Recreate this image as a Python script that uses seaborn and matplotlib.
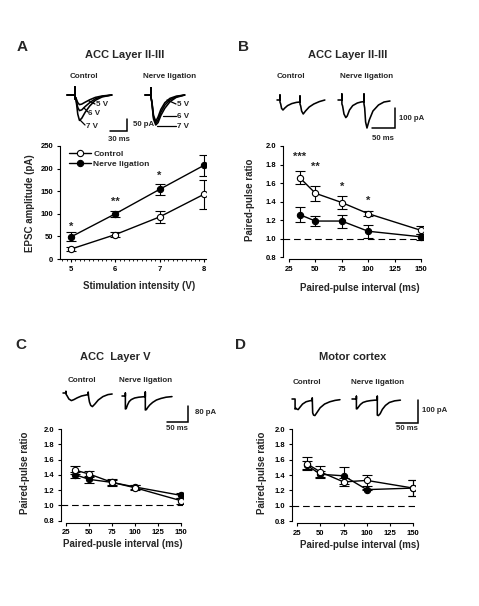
import matplotlib
matplotlib.use("Agg")
import matplotlib.pyplot as plt
import seaborn as sns
from matplotlib.ticker import FixedLocator, FormatStrFormatter, MultipleLocator

# ---------------- data ----------------
stim_v = [5, 6, 7, 8]
a_ctrl = [22, 54, 93, 143]
a_ctrl_err = [4, 6, 14, 32]
a_nl = [49, 100, 154, 207]
a_nl_err = [10, 7, 13, 24]
a_star_x = [5, 6, 7]
a_stars = ["*", "**", "*"]
a_star_y = [71, 127, 184]

ppi = [35, 50, 75, 100, 150]
b_ctrl = [1.66, 1.49, 1.39, 1.27, 1.09]
b_ctrl_err = [0.07, 0.08, 0.07, 0.03, 0.045]
b_nl = [1.26, 1.19, 1.19, 1.08, 1.02]
b_nl_err = [0.08, 0.05, 0.07, 0.07, 0.03]
b_star_x = [35, 50, 75, 100]
b_stars = ["***", "**", "*", "*"]
b_star_y = [1.88, 1.77, 1.56, 1.41]

c_ctrl = [1.46, 1.41, 1.30, 1.23, 1.06]
c_ctrl_err = [0.05, 0.045, 0.045, 0.03, 0.04]
c_nl = [1.40, 1.34, 1.30, 1.24, 1.13]
c_nl_err = [0.04, 0.05, 0.03, 0.03, 0.03]

d_ctrl = [1.55, 1.44, 1.31, 1.33, 1.23]
d_ctrl_err = [0.08, 0.08, 0.05, 0.07, 0.10]
d_nl = [1.53, 1.41, 1.39, 1.21, 1.23]
d_nl_err = [0.05, 0.04, 0.11, 0.01, 0.10]

pp_ticks = [25, 50, 75, 100, 125, 150]
ratio_ticks = [0.8, 1.0, 1.2, 1.4, 1.6, 1.8, 2.0]
amp_ticks = [0, 50, 100, 150, 200, 250]

# example traces (time ms, current pA)
a_ctrl_t = [0, 14, 14, 14, 15, 17, 19, 22, 26, 32, 40, 50, 62, 79]
a_ctrl_5v = [0, 0, 33, -17, -10, -20, -32, -40, -38, -30, -20, -10, -4, 0]
a_ctrl_6v = [0, 0, 33, -17, -10, -30, -52, -65, -62, -48, -32, -16, -6, 0]
a_ctrl_7v = [0, 0, 33, -17, -10, -40, -80, -106, -97, -72, -46, -22, -8, 0]
a_nl_t = [0, 10.5, 10.5, 10.5, 12, 15, 19, 23, 28, 35, 44, 55, 70]
a_nl_5v = [0, 0, 30, -10, -25, -85, -110, -92, -60, -32, -14, -5, 0]
a_nl_6v = [0, 0, 30, -10, -28, -92, -118, -105, -72, -42, -20, -7, 0]
a_nl_7v = [0, 0, 30, -10, -30, -100, -125, -115, -85, -55, -28, -10, 0]

b_ctrl_t = [0, 6.5, 6.5, 6.5, 8, 10, 13, 17, 23, 32, 42, 50, 50, 50, 51.5, 53.5, 57, 62, 70, 80, 92, 104]
b_ctrl_i = [0, 0, 25, -10, -20, -42, -50, -40, -28, -18, -12, -10, 20, -20, -30, -55, -70, -55, -35, -20, -8, 0]
b_nl_t = [0, 8.5, 8.5, 8.5, 10, 13, 17, 20, 25, 32, 42, 50, 56.5, 56.5, 56.5, 58, 60, 63, 68, 76, 88, 100, 113]
b_nl_i = [0, 0, 30, -20, -30, -70, -88, -80, -50, -28, -15, -10, -8, 30, -20, -40, -110, -140, -100, -55, -25, -10, -5]

c_ctrl_t = [0, 7, 7, 7, 10, 14, 20, 26, 34, 44, 55, 60, 60, 61, 63, 66, 70, 76, 84, 95, 107, 117]
c_ctrl_i = [0, 0, 8, -5, -15, -30, -38, -33, -24, -15, -10, -8, 5, -20, -45, -62, -68, -55, -35, -18, -8, -5]
c_nl_t = [0, 8, 8, 8, 10, 13, 17, 22, 30, 40, 50, 55.5, 55.5, 55.5, 58, 61, 66, 73, 82, 93, 105, 119]
c_nl_i = [0, 0, 15, -65, -63, -45, -28, -18, -10, -6, -4, -3, 20, -70, -68, -58, -45, -32, -20, -12, -6, -3]

d_ctrl_t = [0, 7, 7, 9, 11, 14, 18, 24, 32, 40, 46, 46, 47, 49, 52, 57, 64, 74, 86, 98, 109]
d_ctrl_i = [0, 0, -44, -40, -44, -46, -36, -22, -12, -8, -6, 5, -60, -70, -72, -58, -38, -22, -12, -6, -3]
d_nl_t = [0, 10, 10, 10, 12, 15, 19, 25, 33, 42, 52, 57.5, 57.5, 57.5, 60, 64, 69, 76, 85, 97, 110]
d_nl_i = [0, 0, 12, -43, -42, -34, -24, -15, -10, -7, -5, -5, 12, -70, -72, -64, -45, -28, -15, -8, -5]

# ---------------- style ----------------
sns.set_theme(style="ticks")
plt.rcParams["font.family"] = ["Liberation Sans", "DejaVu Sans"]
plt.rcParams["font.weight"] = "bold"
plt.rcParams["axes.labelweight"] = "bold"
plt.rcParams["axes.linewidth"] = 0.8

W, H = 479, 606
fig = plt.figure(figsize=(W / 100, H / 100), dpi=100)
fig.patch.set_facecolor("white")

LW = 1.0
TLW = 1.15
TICK_FS = 5.5
LAB_FS = 7


def ftext(x, y, s, **kw):
    kw.setdefault("ha", "center")
    kw.setdefault("va", "center")
    kw.setdefault("fontweight", "bold")
    fig.text(x / W, 1 - y / H, s, **kw)


def add_ax(left, top, right, bottom):
    return fig.add_axes([left / W, 1 - bottom / H, (right - left) / W, (bottom - top) / H])


def style_ticks(ax):
    ax.tick_params(axis="both", labelsize=TICK_FS, length=2.5, width=0.8, pad=2.5,
                   colors="black", direction="out")
    for lab in ax.get_xticklabels() + ax.get_yticklabels():
        lab.set_fontweight("bold")
    for s in ["top", "right"]:
        ax.spines[s].set_visible(False)
    for s in ["left", "bottom"]:
        ax.spines[s].set_color("black")
        ax.spines[s].set_linewidth(0.8)


def draw_series(ax, x, ctrl, ctrl_err, nl, nl_err, labels=True):
    ax.errorbar(x, ctrl, yerr=ctrl_err, fmt="none", ecolor="black", elinewidth=0.8,
                capsize=3.3, capthick=0.8, zorder=2)
    ax.errorbar(x, nl, yerr=nl_err, fmt="none", ecolor="black", elinewidth=0.8,
                capsize=3.3, capthick=0.8, zorder=2)
    sns.lineplot(x=x, y=nl, ax=ax, color="black", lw=LW, marker="o", markersize=4.5,
                 markerfacecolor="black", markeredgecolor="black", markeredgewidth=0.8,
                 label="Nerve ligation" if labels else None, zorder=3, errorbar=None)
    sns.lineplot(x=x, y=ctrl, ax=ax, color="black", lw=LW, marker="o", markersize=4.5,
                 markerfacecolor="white", markeredgecolor="black", markeredgewidth=0.8,
                 label="Control" if labels else None, zorder=4, errorbar=None)


def pp_axes(ax, xlabel, xlab_xy, ylab_xy):
    ax.axhline(1.0, color="black", lw=0.8, ls=(0, (6, 3.5)), zorder=1)
    ax.set_xlim(19.3, 152)
    ax.set_ylim(0.775, 2.0)
    ax.xaxis.set_major_locator(FixedLocator(pp_ticks))
    ax.yaxis.set_major_locator(FixedLocator(ratio_ticks))
    ax.yaxis.set_major_formatter(FormatStrFormatter("%.1f"))
    style_ticks(ax)
    ax.spines["left"].set_bounds(0.8, 2.0)
    ax.spines["bottom"].set_bounds(25, 150)
    ax.set_xlabel(xlabel, fontsize=LAB_FS, fontweight="bold", va="center")
    ax.set_ylabel("Paired-pulse ratio", fontsize=LAB_FS, fontweight="bold", va="center")
    ax.xaxis.set_label_coords(*xlab_xy)
    ax.yaxis.set_label_coords(*ylab_xy)
    leg = ax.get_legend()
    if leg is not None:
        leg.remove()


def trace_ax(box, x0, y0, ppms, pppa):
    left, top, right, bottom = box
    ax = add_ax(left, top, right, bottom)
    ax.set_xlim((left - x0) / ppms, (right - x0) / ppms)
    ax.set_ylim((y0 - bottom) / pppa, (y0 - top) / pppa)
    ax.axis("off")
    return ax


def trace(ax, t, i, t_off=0.0, i_off=0.0):
    sns.lineplot(x=[v + t_off for v in t], y=[v + i_off for v in i], ax=ax, color="black",
                 lw=TLW, sort=False, estimator=None, errorbar=None)


def scale_bar(ax, x0, y0, ppms, pppa, xbar, ybar, ms, pa):
    tb = (xbar - x0) / ppms
    ib = (y0 - ybar) / pppa
    ax.plot([tb - ms, tb, tb], [ib, ib, ib + pa], color="black", lw=1.1,
            solid_joinstyle="miter", clip_on=False)


def connector(ax, x0, y0, ppms, pppa, p1, p2):
    ax.plot([(p1[0] - x0) / ppms, (p2[0] - x0) / ppms],
            [(y0 - p1[1]) / pppa, (y0 - p2[1]) / pppa], color="black", lw=0.9, clip_on=False)


# ---------------- Panel A ----------------
axA = add_ax(60, 146, 206, 259)
draw_series(axA, stim_v, a_ctrl, a_ctrl_err, a_nl, a_nl_err)
axA.set_xlim(4.75, 8.05)
axA.set_ylim(0, 250)
axA.xaxis.set_major_locator(FixedLocator(stim_v))
axA.yaxis.set_major_locator(FixedLocator(amp_ticks))
axA.xaxis.set_minor_locator(MultipleLocator(0.1))
style_ticks(axA)
axA.tick_params(axis="x", which="minor", length=1.3, width=0.6, colors="black")
axA.set_xlabel("Stimulation intensity (V)", fontsize=LAB_FS, fontweight="bold", va="center")
axA.set_ylabel("EPSC amplitude (pA)", fontsize=LAB_FS, fontweight="bold", va="center")
axA.xaxis.set_label_coords(0.541, -0.239)
axA.yaxis.set_label_coords(-0.205, 0.496)
h, l = axA.get_legend_handles_labels()
order = [l.index("Control"), l.index("Nerve ligation")]
axA.legend([h[k] for k in order], [l[k] for k in order], loc="upper left",
           bbox_to_anchor=(0.05, 0.98), frameon=False, handlelength=2.6,
           handletextpad=0.3, labelspacing=0.25, borderaxespad=0, borderpad=0.2,
           prop={"weight": "bold", "size": 6})
for sx, sy, s in zip(a_star_x, a_star_y, a_stars):
    axA.text(sx, sy, s, ha="center", va="center", fontsize=8, fontweight="bold")

# ---------------- Panel B ----------------
axB = add_ax(283, 146, 423, 259.5)
draw_series(axB, ppi, b_ctrl, b_ctrl_err, b_nl, b_nl_err, labels=False)
pp_axes(axB, "Paired-pulse interval (ms)", (0.55, -0.251), (-0.236, 0.524))
for sx, sy, s in zip(b_star_x, b_star_y, b_stars):
    axB.text(sx, sy, s, ha="center", va="center", fontsize=8, fontweight="bold")

# ---------------- Panel C ----------------
axC = add_ax(61, 429, 183, 522.5)
draw_series(axC, ppi, c_ctrl, c_ctrl_err, c_nl, c_nl_err, labels=False)
pp_axes(axC, "Paired-pusle interval (ms)", (0.508, -0.23), (-0.295, 0.529))

# ---------------- Panel D ----------------
axD = add_ax(292, 429, 415, 523)
draw_series(axD, ppi, d_ctrl, d_ctrl_err, d_nl, d_nl_err, labels=False)
pp_axes(axD, "Paired-pulse interval (ms)", (0.553, -0.235), (-0.244, 0.535))

# ---------------- traces ----------------
# A
pa = (67, 95, 0.567, 0.24)
tA = trace_ax((60, 80, 200, 142), *pa)
for tr in (a_ctrl_5v, a_ctrl_6v, a_ctrl_7v):
    trace(tA, a_ctrl_t, tr)
for tr in (a_nl_5v, a_nl_6v, a_nl_7v):
    trace(tA, a_nl_t, tr, t_off=(145 - 67) / 0.567)
scale_bar(tA, *pa, 127, 131, 30, 50)
for p1, p2 in [((89, 101), (95, 104)), ((84, 108), (88, 112)), ((80, 120), (85, 125)),
               ((167, 100), (176, 104)), ((163, 116), (176, 116)), ((157, 126), (176, 126))]:
    connector(tA, *pa, p1, p2)
for x, y, s in [(96, 105, "5 V"), (88, 114, "6 V"), (86, 127, "7 V"),
                (177, 105, "5 V"), (177, 116, "6 V"), (177, 127, "7 V")]:
    ftext(x, y, s, ha="left", fontsize=5.8)
ftext(133, 124, "50 pA", ha="left", fontsize=5.6)
ftext(119, 139, "30 ms", fontsize=5.6)

# B
pb = (277, 100, 0.46, 0.2)
tB = trace_ax((270, 85, 440, 142), *pb)
trace(tB, b_ctrl_t, b_ctrl_i)
trace(tB, b_nl_t, b_nl_i, t_off=(338 - 277) / 0.46)
scale_bar(tB, *pb, 395, 128, 50, 100)
ftext(399, 118, "100 pA", ha="left", fontsize=5.6)
ftext(383, 138, "50 ms", fontsize=5.6)

# C
pc = (63, 393, 0.42, 0.2)
tC = trace_ax((55, 380, 215, 430), *pc)
trace(tC, c_ctrl_t, c_ctrl_i)
trace(tC, c_nl_t, c_nl_i, t_off=(122 - 63) / 0.42, i_off=-15)
scale_bar(tC, *pc, 188, 422, 50, 80)
ftext(195, 413, "80 pA", ha="left", fontsize=5.6)
ftext(177, 429, "50 ms", fontsize=5.6)

# D
pd_ = (292, 399, 0.44, 0.23)
tD = trace_ax((285, 385, 440, 430), *pd_)
trace(tD, d_ctrl_t, d_ctrl_i)
trace(tD, d_nl_t, d_nl_i, t_off=(352 - 292) / 0.44)
scale_bar(tD, *pd_, 418, 423, 50, 100)
ftext(422, 411, "100 pA", ha="left", fontsize=5.6)
ftext(407, 429, "50 ms", fontsize=5.6)

# ---------------- titles / letters ----------------
for x, y, s in [(22, 47, "A"), (243, 47, "B"), (21, 345, "C"), (241, 345, "D")]:
    ftext(x, y, s, fontsize=11)
for x, y, s in [(125, 55, "ACC Layer II-III"), (348, 55, "ACC Layer II-III"),
                (115, 357, "ACC  Layer V"), (353, 357, "Motor cortex")]:
    ftext(x, y, s, fontsize=8)
for x, y, s in [(84, 77, "Control"), (170, 77, "Nerve ligation"),
                (291, 76, "Control"), (367, 76, "Nerve ligation"),
                (82, 381, "Control"), (146, 381, "Nerve ligation"),
                (307, 383, "Control"), (378, 383, "Nerve ligation")]:
    ftext(x, y, s, fontsize=5.8)

fig.savefig("out.png", dpi=100, facecolor="white")
